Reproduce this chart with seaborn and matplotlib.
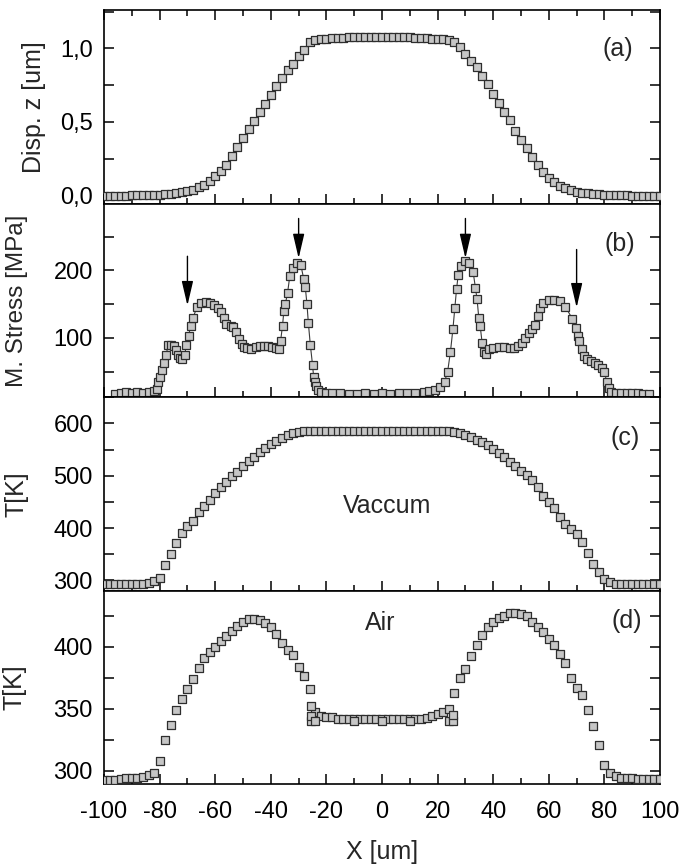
import matplotlib
matplotlib.use("Agg")
import matplotlib.pyplot as plt
import seaborn as sns
import pandas as pd
from matplotlib.ticker import MultipleLocator, FuncFormatter

# sampling grid (um) shared by panels a, c, d
x_grid = [-100, -98, -96, -94, -92, -90, -88, -86, -84, -82, -80, -78, -76, -74, -72, -70,
          -68, -66, -64, -62, -60, -58, -56, -54, -52, -50, -48, -46, -44, -42, -40, -38,
          -36, -34, -32, -30, -28, -26, -24, -22, -20, -18, -16, -14, -12, -10, -8, -6,
          -4, -2, 0, 2, 4, 6, 8, 10, 12, 14, 16, 18, 20, 22, 24, 26, 28, 30,
          32, 34, 36, 38, 40, 42, 44, 46, 48, 50, 52, 54, 56, 58, 60, 62, 64, 66,
          68, 70, 72, 74, 76, 78, 80, 82, 84, 86, 88, 90, 92, 94, 96, 98, 100]

# (a) displacement z [um]
disp_z = [0.0, 0.0, 0.0, 0.0, 0.0, 0.001, 0.001, 0.002, 0.003, 0.005, 0.007, 0.010, 0.013, 0.017,
          0.022, 0.028, 0.037, 0.055, 0.075, 0.10, 0.13, 0.165, 0.21, 0.27, 0.33, 0.39, 0.45,
          0.505, 0.565, 0.625, 0.68, 0.745, 0.80, 0.85, 0.895, 0.945, 0.99, 1.04, 1.055, 1.06,
          1.065, 1.068, 1.07, 1.072, 1.074, 1.075, 1.076, 1.077, 1.078, 1.078, 1.078, 1.078,
          1.078, 1.077, 1.076, 1.075, 1.073, 1.071, 1.069, 1.066, 1.063, 1.06, 1.055, 1.045,
          1.01, 0.96, 0.915, 0.87, 0.81, 0.755, 0.69, 0.63, 0.57, 0.51, 0.44, 0.375, 0.32,
          0.26, 0.205, 0.16, 0.12, 0.09, 0.065, 0.048, 0.035, 0.026, 0.020, 0.015, 0.011,
          0.008, 0.005, 0.003, 0.002, 0.001, 0.001, 0.0, 0.0, 0.0, 0.0, 0.0, 0.0]

# (b) Mises stress [MPa], points in measurement order
x_stress = [-96, -94, -92, -90, -88, -86, -84, -82, -81, -80.5, -80, -79, -78.3, -77.6, -77, -76,
            -75, -74, -73.4, -72.5, -71.8, -71, -70.4, -69.6, -68.8, -68, -66.5, -65, -63.5,
            -62, -60.5, -59, -58, -57, -56, -54.5, -53.5, -52.5, -51.5, -50.5, -49.5, -48.5,
            -47, -45.5, -44, -42.5, -41, -39.5, -38, -37, -36.5, -35.8, -35.3, -34.8, -34,
            -33.2, -32, -30.6, -29.2, -28.2, -27.6, -27, -26.5, -25.8, -25, -24.6, -24.2,
            -23.8, -23, -22, -20, -18, -15, -12, -9, -6, -3, 0, 3, 6, 9, 12, 15, 17, 19, 21,
            22.5, 23.6, 24.6, 25.5, 26.2, 26.8, 27.4, 28.4, 29.8, 31.3, 32.8, 33.6, 34.2,
            34.8, 35.3, 36, 36.6, 37.4, 38.5, 40, 42, 44, 46, 47.5, 49, 50.3, 51.5, 52.8,
            54, 55, 56, 57, 58, 60, 62, 64, 66, 68.5, 69.8, 70.4, 71, 71.8, 72.6, 73.6, 75,
            76.5, 77.8, 79, 80, 80.8, 81.6, 82.4, 84, 86, 88, 90, 92, 94, 96]
stress = [17, 19, 20, 19, 20, 18, 20, 21, 24, 35, 42, 52, 63, 75, 90, 89,
          88, 82, 75, 70, 68, 74, 90, 103, 118, 130, 146, 152, 153,
          151, 149, 145, 138, 130, 120, 118, 116, 108, 98, 91, 87, 85,
          84, 86, 88, 88, 88, 86, 85, 84, 95, 118, 140, 150, 166,
          191, 203, 211, 208, 188, 175, 150, 122, 90, 60, 42, 35,
          28, 23, 20, 19, 18, 18, 17, 17, 18, 17, 18, 17, 18, 18, 19, 20, 21, 23, 27,
          35, 50, 79, 113, 144, 172, 193, 207, 214, 211, 197, 174, 157,
          130, 118, 93, 79, 76, 84, 85, 86, 86, 85, 85, 88, 92, 100, 107,
          113, 119, 132, 145, 152, 156, 156, 155, 146, 128, 115, 103, 96, 84, 73, 69, 66,
          63, 60, 56, 50, 35, 25, 20, 19, 18, 19, 18, 18, 17, 17]
arrow_x = [-70, -30, 30, 70]
arrow_top = [221, 277, 277, 231]
arrow_tip = [148, 218, 218, 145]

# (c) temperature in vacuum [K]
temp_vac = [293, 293, 292.5, 292.5, 292.5, 293, 293, 294, 295, 299, 304, 330, 351, 371, 391, 404,
            414, 431, 443, 454, 467, 478, 488, 499, 508, 518, 528, 536, 545, 553, 560, 567,
            573, 578, 582, 584, 585, 585, 585, 585, 585, 585, 585, 585, 585, 585, 585, 585,
            585, 585, 585, 585, 585, 585, 585, 585, 585, 585, 585, 585, 585, 585, 585, 583.5,
            581, 578, 574, 569, 564, 558, 551, 543, 535, 527, 519, 510, 501, 491, 478, 461,
            449, 438, 422, 407, 398, 389, 373, 352, 332, 316, 302, 296, 294, 293, 292.5,
            292.5, 292.5, 292.5, 292.5, 292.5, 292.5]

# (d) temperature in air [K]
temp_air = [293, 293, 293, 293.5, 294, 294, 294.5, 295, 296.5, 298.5, 308, 325, 337, 349, 358, 366,
            374, 383, 391, 396, 400, 404.5, 408.5, 413, 417, 420, 422.5, 422.5, 421.5, 419,
            416, 410.5, 403, 397, 393, 384, 376.5, 366, 347, 344.5, 343.5, 343, 342, 341.5,
            341.5, 341.5, 341.5, 341.5, 341.5, 341.5, 341.5, 341.5, 341.5, 341.5, 341.5,
            341.5, 341.5, 342, 342.7, 344, 345.5, 347, 350, 363, 375, 382, 392.5, 401.5,
            409.5, 415.5, 420, 423, 425, 427, 427.5, 426.5, 424.5, 420, 415.5, 411.5, 406.5,
            401.5, 394, 386.5, 375, 367, 361, 349, 336.5, 321, 305, 298, 295.5, 294.5, 294,
            294, 293.5, 293.5, 293.5, 293.5, 293.5]
# extra points on the edges of the central plateau in air
x_air_edge = [-25.5, -25.5, -25.5, -24, 24, 25.5, 25.5, -10, 0, 10]
temp_air_edge = [340, 344, 352, 340, 340, 340, 345, 340.5, 340.5, 340.5]

sns.set_style("ticks")
plt.rcParams['font.family'] = ['Liberation Sans', 'DejaVu Sans']
plt.rcParams['axes.linewidth'] = 1.2
plt.rcParams['axes.unicode_minus'] = False

face = '#c6c6c6'
edge = '#2e2e2e'

fig, axes = plt.subplots(4, 1, figsize=(6.8, 8.65), dpi=100, sharex=True)
fig.subplots_adjust(left=0.153, right=0.9706, top=0.9884, bottom=0.0931, hspace=0)
ax_a, ax_b, ax_c, ax_d = axes

sq = dict(marker='s', s=32, color=face, edgecolor=edge, linewidth=0.9, legend=False, zorder=3)

df_a = pd.DataFrame({'x': x_grid, 'y': disp_z})
sns.scatterplot(data=df_a, x='x', y='y', ax=ax_a, **sq)

df_b = pd.DataFrame({'x': x_stress, 'y': stress})
sns.lineplot(data=df_b, x='x', y='y', ax=ax_b, sort=False, estimator=None, color='#3a3a3a',
             linewidth=0.8, marker='s', markersize=5.6, mfc=face, mec=edge, mew=0.9)

df_c = pd.DataFrame({'x': x_grid, 'y': temp_vac})
sns.scatterplot(data=df_c, x='x', y='y', ax=ax_c, **sq)

df_d = pd.DataFrame({'x': x_grid + x_air_edge, 'y': temp_air + temp_air_edge})
sns.scatterplot(data=df_d, x='x', y='y', ax=ax_d, **sq)

for xa, yt, yp in zip(arrow_x, arrow_top, arrow_tip):
    ax_b.annotate('', xy=(xa, yp), xytext=(xa, yt),
                  arrowprops=dict(arrowstyle='-|>,head_length=1.5,head_width=0.35',
                                  color='black', lw=1.0, shrinkA=0, shrinkB=0))

ax_a.set_ylim(-0.055, 1.26)
ax_b.set_ylim(12, 299)
ax_c.set_ylim(280, 650)
ax_d.set_ylim(289, 445)
ax_d.set_xlim(-100, 100)

ax_a.yaxis.set_major_locator(MultipleLocator(0.5))
ax_a.yaxis.set_minor_locator(MultipleLocator(0.25))
ax_a.yaxis.set_major_formatter(FuncFormatter(lambda v, p: f"{v:.1f}".replace('.', ',')))
ax_b.yaxis.set_major_locator(MultipleLocator(100))
ax_b.yaxis.set_minor_locator(MultipleLocator(50))
ax_c.yaxis.set_major_locator(MultipleLocator(100))
ax_c.yaxis.set_minor_locator(MultipleLocator(50))
ax_d.yaxis.set_major_locator(MultipleLocator(50))
ax_d.yaxis.set_minor_locator(MultipleLocator(25))
ax_d.xaxis.set_major_locator(MultipleLocator(20))
ax_d.xaxis.set_minor_locator(MultipleLocator(10))

for ax in axes:
    ax.tick_params(which='both', direction='in', right=True, top=False, width=1.1,
                   labelsize=17, colors='black')
    ax.tick_params(axis='y', which='both', length=7, pad=8)
    ax.tick_params(axis='x', which='major', length=7, pad=12)
    ax.tick_params(axis='x', which='minor', length=4)
    for s in ax.spines.values():
        s.set_visible(True)
        s.set_color('black')
    ax.set_xlabel('')
ax_a.tick_params(axis='x', which='both', top=True)

ax_a.set_ylabel('Disp. z [um]', fontsize=18)
ax_b.set_ylabel('M. Stress [MPa]', fontsize=17.5)
ax_c.set_ylabel('T[K]', fontsize=18)
ax_d.set_ylabel('T[K]', fontsize=18)
ax_a.yaxis.set_label_coords(-0.105, 0.5)
ax_b.yaxis.set_label_coords(-0.136, 0.5)
ax_c.yaxis.set_label_coords(-0.135, 0.5)
ax_d.yaxis.set_label_coords(-0.14, 0.5)
ax_d.set_xlabel('X [um]', fontsize=18, labelpad=12)

ax_a.text(0.924, 0.80, '(a)', transform=ax_a.transAxes, ha='center', va='center', fontsize=18)
ax_b.text(0.928, 0.79, '(b)', transform=ax_b.transAxes, ha='center', va='center', fontsize=18)
ax_c.text(0.937, 0.79, '(c)', transform=ax_c.transAxes, ha='center', va='center', fontsize=18)
ax_d.text(0.941, 0.845, '(d)', transform=ax_d.transAxes, ha='center', va='center', fontsize=18)
ax_c.text(0.509, 0.44, 'Vaccum', transform=ax_c.transAxes, ha='center', va='center', fontsize=18)
ax_d.text(0.497, 0.835, 'Air', transform=ax_d.transAxes, ha='center', va='center', fontsize=18)

fig.savefig('out.png', dpi=100)
